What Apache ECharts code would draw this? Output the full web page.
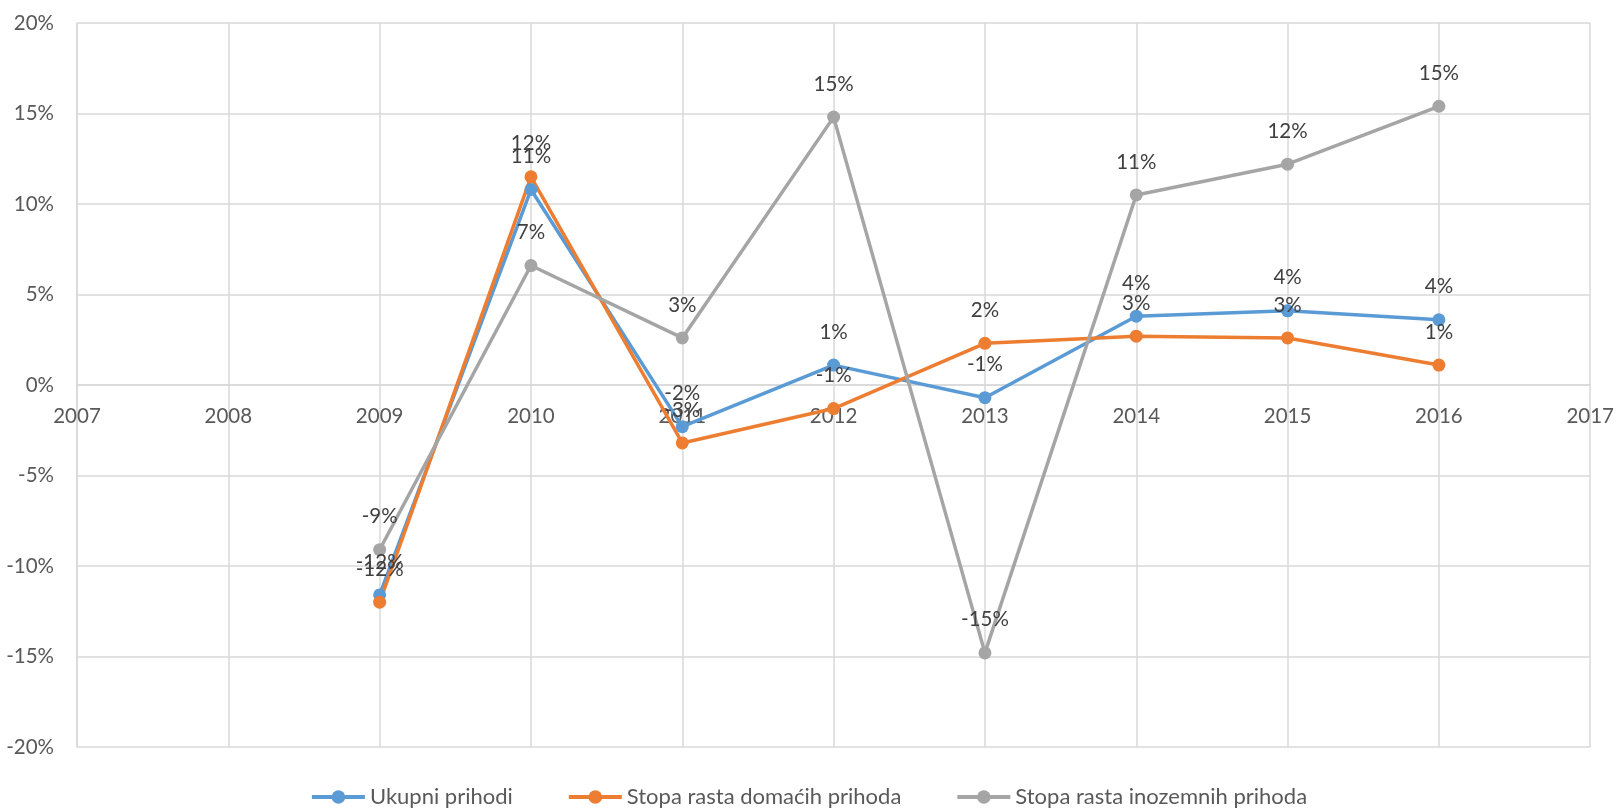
<!DOCTYPE html>
<html>
<head>
<meta charset="utf-8">
<script src="https://cdn.jsdelivr.net/npm/echarts@6/dist/echarts.min.js"></script>
<style>
html,body{margin:0;padding:0;background:#fff;}
#chart{width:1617px;height:812px;}
</style>
</head>
<body>
<div id="chart"></div>
<script>
const years = [2009, 2010, 2011, 2012, 2013, 2014, 2015, 2016];
const ukupni = [-11.6, 10.8, -2.3, 1.1, -0.7, 3.8, 4.1, 3.6];
const domaci = [-12.0, 11.5, -3.2, -1.3, 2.3, 2.7, 2.6, 1.1];
const inozemni = [-9.1, 6.6, 2.6, 14.8, -14.8, 10.5, 12.2, 15.4];
const seriesNames = ['Ukupni prihodi', 'Stopa rasta domaćih prihoda', 'Stopa rasta inozemnih prihoda'];
const colors = ['#5B9BD5', '#ED7D31', '#A5A5A5'];
const yTicks = [-20, -15, -10, -5, 0, 5, 10, 15, 20];
const xRange = [2007, 2017];

const FONT = 'Lato';
const FS = 20.5;
const GRID = {left: 77, right: 24, top: 23, bottom: 65};
const plotH = 812 - GRID.top - GRID.bottom;
const yMin = yTicks[0], yMax = yTicks[yTicks.length - 1];
// x axis sits on the y=0 line (as the reference does)
const zeroOffset = -plotH * (0 - yMin) / (yMax - yMin);

function mk(name, vals, color) {
  return {
    name: name,
    type: 'line',
    data: years.map((y, i) => [y, vals[i]]),
    symbol: 'circle',
    symbolSize: 13,
    lineStyle: {width: 3.5, color: color},
    itemStyle: {color: color},
    label: {
      show: true,
      position: 'top',
      distance: 16,
      color: '#404040',
      fontFamily: FONT,
      fontSize: FS,
      formatter: p => Math.round(p.value[1]) + '%'
    },
    emphasis: {disabled: true},
    animation: false
  };
}
const chart = echarts.init(document.getElementById('chart'));
chart.setOption({
  animation: false,
  textStyle: {fontFamily: FONT},
  grid: Object.assign({containLabel: false}, GRID),
  xAxis: {
    type: 'value', min: xRange[0], max: xRange[1], interval: 1,
    position: 'bottom',
    offset: zeroOffset,
    axisLine: {show: true, onZero: false, lineStyle: {color: '#d9d9d9', width: 1.5}},
    axisTick: {show: false},
    splitLine: {show: true, lineStyle: {color: '#d9d9d9', width: 1.5}},
    axisLabel: {color: '#595959', fontSize: FS, fontFamily: FONT, margin: 21, formatter: v => String(v)}
  },
  yAxis: {
    type: 'value', min: yMin, max: yMax, interval: 5,
    axisLine: {show: true, onZero: false, lineStyle: {color: '#d9d9d9', width: 1.5}},
    axisTick: {show: false},
    splitLine: {show: true, lineStyle: {color: '#d9d9d9', width: 1.5}},
    axisLabel: {color: '#595959', fontSize: FS, fontFamily: FONT, margin: 23, formatter: v => v + '%'}
  },
  legend: {
    top: 781,
    left: 'center',
    itemWidth: 53,
    itemHeight: 17,
    itemGap: 54,
    lineStyle: {width: 4},
    textStyle: {color: '#595959', fontSize: 22, fontFamily: FONT},
    data: seriesNames
  },
  series: [
    mk(seriesNames[0], ukupni, colors[0]),
    mk(seriesNames[1], domaci, colors[1]),
    mk(seriesNames[2], inozemni, colors[2])
  ]
});
</script>
</body>
</html>
